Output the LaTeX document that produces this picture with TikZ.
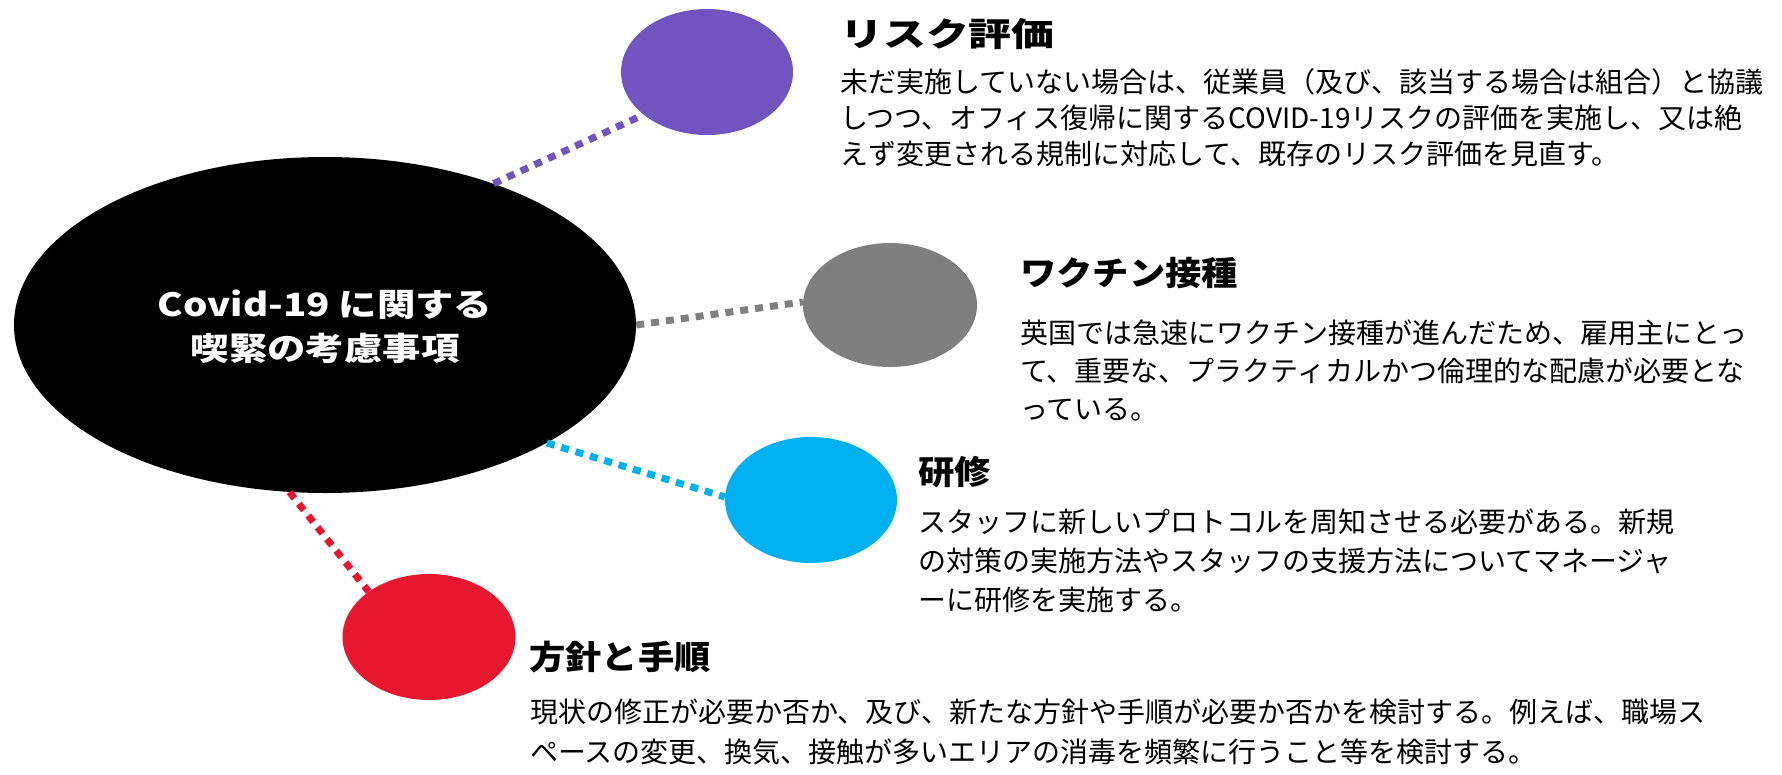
\documentclass[tikz,border=0pt]{standalone}
\usepackage{fontspec}
\usetikzlibrary{shapes.geometric}
\newfontfamily\jpbody{Noto Sans CJK JP}
\newfontfamily\jptitle[FakeStretch=1.1]{Noto Sans CJK JP}
\newfontfamily\jpwide[FakeStretch=1.3]{Noto Sans CJK JP}
\newfontfamily\jpcore[FakeStretch=1.2]{Noto Sans CJK JP}
\definecolor{cpurple}{HTML}{7055C0}
\definecolor{cgray}{HTML}{7F7F7F}
\definecolor{cblue}{HTML}{00B0F0}
\definecolor{cred}{HTML}{E8162F}
\begin{document}
\begin{tikzpicture}[x=1pt,y=-1pt,
  blob/.style={ellipse, inner sep=0pt, draw=none},
  link/.style={line width=7pt, dash pattern=on 8pt off 7pt},
  body/.style={anchor=west, inner sep=0pt, text height=24.6pt, text depth=3.4pt,
    font=\jpbody\fontsize{28}{34}\selectfont},
  ttl/.style={anchor=west, inner sep=0pt, text height=29pt, text depth=4pt,
    font=\jptitle\bfseries\fontsize{33}{40}\selectfont}]
\useasboundingbox (0,0) rectangle (1782,774);

% ellipses
\node[blob, fill=black, minimum width=622pt, minimum height=336pt] (core) at (325,325) {};
\node[blob, fill=cpurple, minimum width=172pt, minimum height=126pt] (risk) at (707,72) {};
\node[blob, fill=cgray, minimum width=174pt, minimum height=124pt] (vacc) at (890,305) {};
\node[blob, fill=cblue, minimum width=172pt, minimum height=126pt] (train) at (811,500) {};
\node[blob, fill=cred, minimum width=173pt, minimum height=126pt] (policy) at (429,637) {};

\node[text=white, align=center, inner sep=0pt,
  font=\jpcore\bfseries\fontsize{32}{44}\selectfont] (coretext) at (325,327)
  {Covid-19 に関する\\喫緊の考慮事項};

% connectors
\draw[link, cpurple] (core.40.7) -- (risk.214);
\draw[link, cgray] (core.0.6) -- (vacc.178.7);
\draw[link, cblue] (core.-28.8) -- (train.178.7);
\draw[link, cred] (core.258.6) -- (policy.143.9);

% risk assessment
\node[ttl, font=\jpwide\bfseries\fontsize{33}{40}\selectfont] (t1) at (840,34) {リスク評価};
\node[body] (b1a) at (840,82) {未だ実施していない場合は、従業員（及び、該当する場合は組合）と協議};
\node[body] (b1b) at (840,118) {しつつ、オフィス復帰に関するCOVID-19リスクの評価を実施し、又は絶};
\node[body] (b1c) at (840,154) {えず変更される規制に対応して、既存のリスク評価を見直す。};

% vaccination
\node[ttl] (t2) at (1020,273) {ワクチン接種};
\node[body] (b2a) at (1020,333) {英国では急速にワクチン接種が進んだため、雇用主にとっ};
\node[body] (b2b) at (1020,371) {て、重要な、プラクティカルかつ倫理的な配慮が必要とな};
\node[body] (b2c) at (1020,409) {っている。};

% training
\node[ttl] (t3) at (918,472) {研修};
\node[body] (b3a) at (918,522) {スタッフに新しいプロトコルを周知させる必要がある。新規};
\node[body] (b3b) at (918,561) {の対策の実施方法やスタッフの支援方法についてマネージャ};
\node[body] (b3c) at (918,600) {ーに研修を実施する。};

% policy
\node[ttl] (t4) at (529,657) {方針と手順};
\node[body] (b4a) at (530,712) {現状の修正が必要か否か、及び、新たな方針や手順が必要か否かを検討する。例えば、職場ス};
\node[body] (b4b) at (530,752) {ペースの変更、換気、接触が多いエリアの消毒を頻繁に行うこと等を検討する。};
\end{tikzpicture}
\end{document}
